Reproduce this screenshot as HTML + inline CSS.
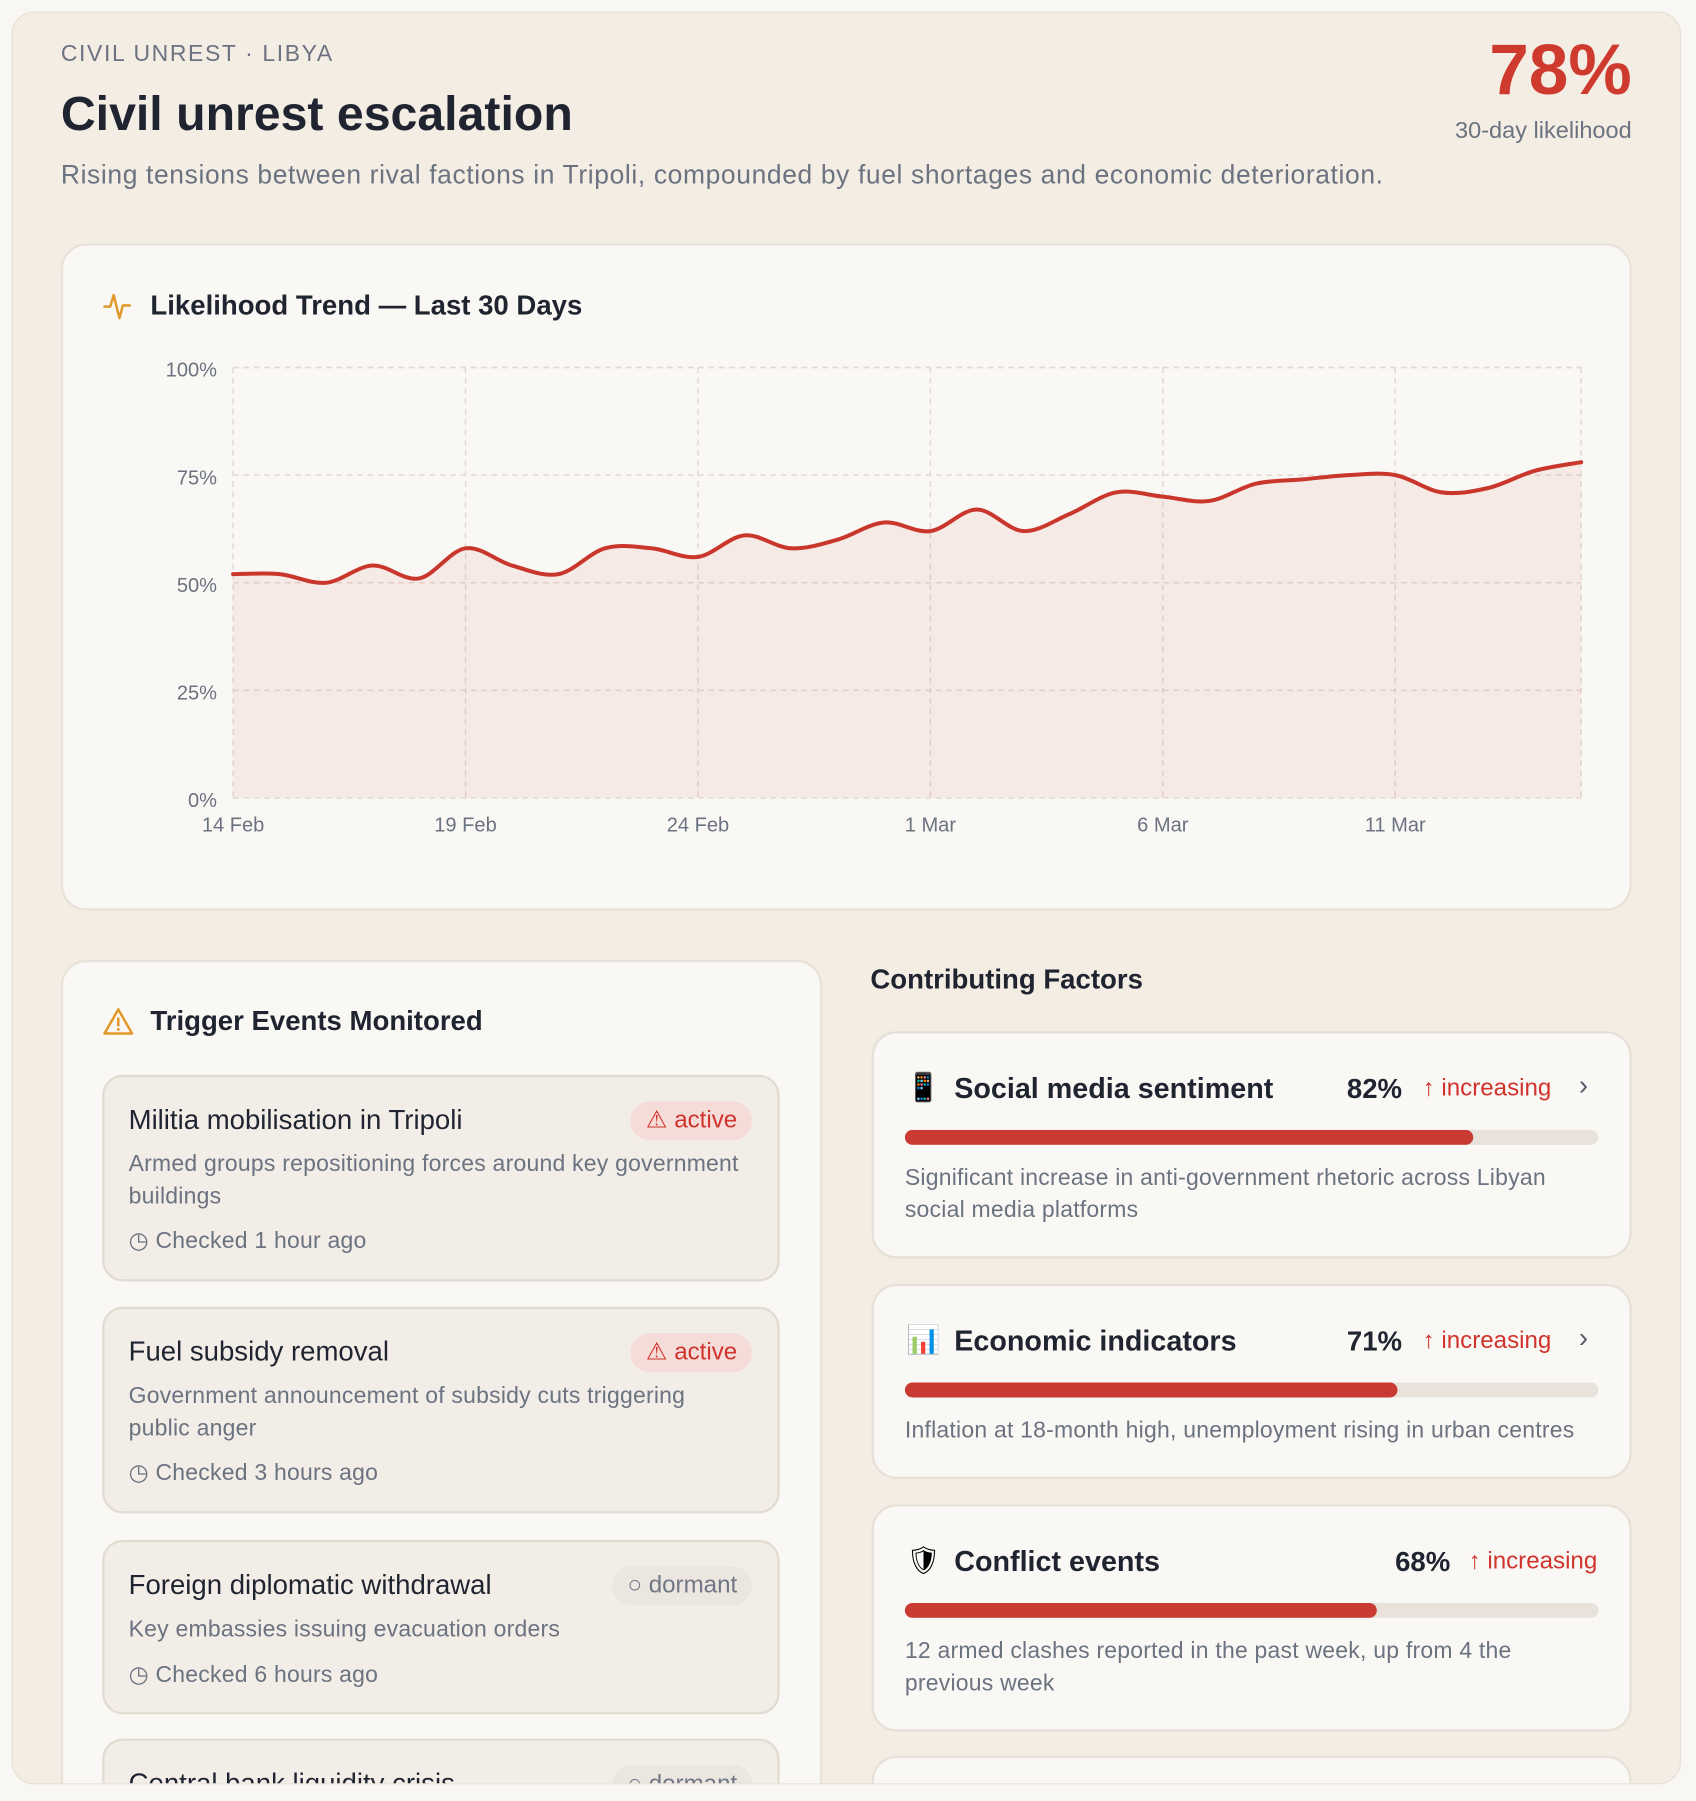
<!DOCTYPE html>
<html><head><meta charset="utf-8">
<style>
*{box-sizing:border-box;margin:0;padding:0}
html,body{width:1696px;height:1800px;overflow:hidden;background:#f9f7f3;font-family:"Liberation Sans",Arial,sans-serif}
#s{position:absolute;left:0;top:0;width:1477px;height:1568px;transform:scale(1.14828);transform-origin:0 0;overflow:hidden}
.abs{position:absolute}
#outer{left:10px;top:10px;width:1454px;height:1544px;background:#f4ede4;border:1px solid #e6dfd5;border-radius:20px;overflow:hidden}
.card{position:absolute;background:#faf8f5;border:2px solid #e8e2da;border-radius:22px}
.item{position:absolute;left:34px;width:590px;background:#f2ede7;border:2px solid #e2dbd2;border-radius:18px}
.it{position:absolute;left:21px;top:24px;font-size:24px;color:#1f2430}
.badge{position:absolute;right:22px;top:21px;height:34px;border-radius:17px;font-size:21px;line-height:34px;padding:0 13px 0 13px}
.act{background:#f5dcd8;color:#d0342c}
.dor{background:#ebe6e0;color:#707683}
.desc{position:absolute;left:21px;font-size:20px;line-height:28px;color:#6b7280;letter-spacing:0.2px}
.chk{position:absolute;left:21px;font-size:20px;color:#6b7280;letter-spacing:0.2px}
.fc{position:absolute;left:705px;width:662px;background:#faf8f5;border:2px solid #e6e0d8;border-radius:22px}
.ft{position:absolute;left:70px;top:34px;font-size:25px;font-weight:bold;color:#1f2430}
.fi{position:absolute;left:28px;top:33px;font-size:24px}
.fp{position:absolute;top:35px;font-size:24px;font-weight:bold;color:#1f2430}
.finc{position:absolute;top:36px;font-size:21px;color:#d0342c}
.chev{position:absolute;right:36px;top:32px;font-size:24px;color:#555b66}
.bar{position:absolute;left:27px;top:84px;width:604px;height:13px;border-radius:7px;background:#e8e2db;overflow:hidden}
.bar div{height:100%;background:#c93a33;border-radius:7px}
.fd{position:absolute;left:27px;top:112px;width:585px;font-size:20px;line-height:28px;color:#6b7280;letter-spacing:0.2px}
</style></head><body>
<div id="s">
<div id="outer" class="abs">
 <div class="abs" style="left:42px;top:25px;font-size:20px;letter-spacing:1.4px;color:#6b7280">CIVIL UNREST · LIBYA</div>
 <div class="abs" style="left:42px;top:64px;font-size:42px;font-weight:bold;color:#1f2430">Civil unrest escalation</div>
 <div class="abs" style="left:42px;top:128px;font-size:23px;letter-spacing:0.55px;color:#6b7280">Rising tensions between rival factions in Tripoli, compounded by fuel shortages and economic deterioration.</div>
 <div class="abs" style="right:42px;top:15px;font-size:62px;font-weight:bold;color:#cf3a2f">78%</div>
 <div class="abs" style="right:42px;top:91px;font-size:20.5px;color:#6b7280">30-day likelihood</div>

 <div class="card" style="left:42px;top:201px;width:1368px;height:581px">
  <svg class="abs" style="left:34px;top:38px" width="28" height="28" viewBox="0 0 28 28"><path d="M2 15h5l3-10 5 20 3-11h6" fill="none" stroke="#e09a2c" stroke-width="2.2" stroke-linejoin="round" stroke-linecap="round"/></svg>
  <div class="abs" style="left:76px;top:39px;font-size:24px;font-weight:bold;color:#1f2430">Likelihood Trend — Last 30 Days</div>
 </div>
 <svg class="abs" style="left:0;top:0" width="1454" height="760">
  <g id="g" transform="translate(-10,-10)"></g>
 </svg>

 <div class="card" style="left:42px;top:825px;width:663px;height:800px">
  <svg class="abs" style="left:34px;top:38px" width="28" height="28" viewBox="0 0 28 28"><path d="M14 3L26 24H2Z" fill="none" stroke="#e09a2c" stroke-width="2.2" stroke-linejoin="round"/><path d="M14 11v6" stroke="#e09a2c" stroke-width="2.2" stroke-linecap="round"/><circle cx="14" cy="20.5" r="1.3" fill="#e09a2c"/></svg>
  <div class="abs" style="left:76px;top:38px;font-size:24px;font-weight:bold;color:#1f2430">Trigger Events Monitored</div>

  <div class="item" style="top:98px;height:180px">
   <div class="it">Militia mobilisation in Tripoli</div>
   <div class="badge act">⚠ active</div>
   <div class="desc" style="top:62px;width:550px">Armed groups repositioning forces around key government buildings</div>
   <div class="chk" style="top:130px">◷ Checked 1 hour ago</div>
  </div>
  <div class="item" style="top:300px;height:180px">
   <div class="it">Fuel subsidy removal</div>
   <div class="badge act">⚠ active</div>
   <div class="desc" style="top:62px;width:530px">Government announcement of subsidy cuts triggering public anger</div>
   <div class="chk" style="top:130px">◷ Checked 3 hours ago</div>
  </div>
  <div class="item" style="top:503px;height:152px">
   <div class="it">Foreign diplomatic withdrawal</div>
   <div class="badge dor">○ dormant</div>
   <div class="desc" style="top:62px;width:550px">Key embassies issuing evacuation orders</div>
   <div class="chk" style="top:103px">◷ Checked 6 hours ago</div>
  </div>
  <div class="item" style="top:676px;height:152px">
   <div class="it">Central bank liquidity crisis</div>
   <div class="badge dor">○ dormant</div>
  </div>
 </div>

 <div class="abs" style="left:747px;top:829px;font-size:24px;font-weight:bold;color:#1f2430">Contributing Factors</div>

 <div class="fc" style="left:748px;top:887px;height:198px">
  <div class="fi">📱</div><div class="ft">Social media sentiment</div>
  <div class="fp" style="right:198px">82%</div><div class="finc" style="right:68px">↑ increasing</div><div class="chev">›</div>
  <div class="bar"><div style="width:82%"></div></div>
  <div class="fd">Significant increase in anti-government rhetoric across Libyan social media platforms</div>
 </div>
 <div class="fc" style="left:748px;top:1107px;height:170px">
  <div class="fi">📊</div><div class="ft">Economic indicators</div>
  <div class="fp" style="right:198px">71%</div><div class="finc" style="right:68px">↑ increasing</div><div class="chev">›</div>
  <div class="bar"><div style="width:71%"></div></div>
  <div class="fd" style="width:620px">Inflation at 18-month high, unemployment rising in urban centres</div>
 </div>
 <div class="fc" style="left:748px;top:1299px;height:198px">
  <div class="fi">🛡</div><div class="ft">Conflict events</div>
  <div class="fp" style="right:156px">68%</div><div class="finc" style="right:28px">↑ increasing</div>
  <div class="bar"><div style="width:68%"></div></div>
  <div class="fd" style="width:560px">12 armed clashes reported in the past week, up from 4 the previous week</div>
 </div>
 <div class="fc" style="left:748px;top:1518px;height:198px"></div>
</div>
</div>
<script>
var v=[52,52,50,54,51,58,54,52,58,58,56,61,58,60,64,62,67,62,66,71,70,69,73,74,75,75,71,72,76,78];
var x0=202,x1=1376,yb=694,yt=319;
function X(i){return x0+(x1-x0)*i/29}function Y(p){return yb-(yb-yt)*p/100}
var s='';
for(var k=0;k<=4;k++){var y=Y(k*25);if(k>0)s+='<line x1="'+x0+'" x2="'+x1+'" y1="'+y+'" y2="'+y+'" stroke="#e3d9d0" stroke-dasharray="5,4" stroke-width="1.3"/>';
 s+='<text x="188" y="'+(y+8)+'" text-anchor="end" font-size="17.5" fill="#6b7280" font-family="Liberation Sans,sans-serif">'+(k*25)+'%</text>';}
var lab=['14 Feb','19 Feb','24 Feb','1 Mar','6 Mar','11 Mar'];
for(var d=0;d<=29;d+=5){var x=X(d);s+='<line x1="'+x+'" x2="'+x+'" y1="'+yt+'" y2="'+yb+'" stroke="#e3d9d0" stroke-dasharray="5,4" stroke-width="1.3"/>';
 s+='<text x="'+x+'" y="723" text-anchor="middle" font-size="17.5" fill="#6b7280" font-family="Liberation Sans,sans-serif">'+lab[d/5]+'</text>';}
s+='<line x1="'+x1+'" x2="'+x1+'" y1="'+yt+'" y2="'+yb+'" stroke="#e3d9d0" stroke-dasharray="5,4" stroke-width="1.3"/>';
s+='<line x1="'+x0+'" x2="'+x1+'" y1="'+yt+'" y2="'+yt+'" stroke="#e3d9d0" stroke-dasharray="5,4" stroke-width="1.3"/>';
var P=v.map(function(p,i){return [X(i),Y(p)]});
var d='M'+P[0][0]+','+P[0][1];
for(var i=0;i<P.length-1;i++){var p0=P[Math.max(0,i-1)],p1=P[i],p2=P[i+1],p3=P[Math.min(P.length-1,i+2)];
 d+=' C'+(p1[0]+(p2[0]-p0[0])/6)+','+(p1[1]+(p2[1]-p0[1])/6)+' '+(p2[0]-(p3[0]-p1[0])/6)+','+(p2[1]-(p3[1]-p1[1])/6)+' '+p2[0]+','+p2[1];}
s+='<path d="'+d+' L'+x1+','+yb+' L'+x0+','+yb+'Z" fill="#c9372c" fill-opacity="0.07"/>';
s+='<line x1="'+x0+'" x2="'+x1+'" y1="'+yb+'" y2="'+yb+'" stroke="#e3d9d0" stroke-dasharray="5,4" stroke-width="1.3"/>';
s+='<path d="'+d+'" fill="none" stroke="#c9372c" stroke-width="3.5" stroke-linecap="round"/>';
document.getElementById('g').innerHTML=s;
</script>
</body></html>
